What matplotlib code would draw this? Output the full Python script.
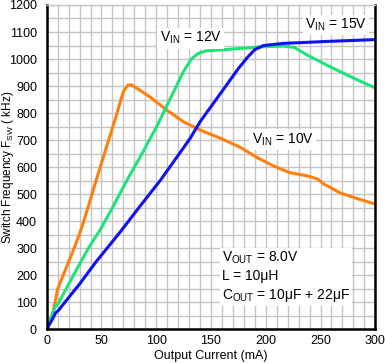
import matplotlib
matplotlib.use('Agg')
import matplotlib.pyplot as plt
from matplotlib.ticker import MultipleLocator

plt.rcParams['font.family'] = ['Liberation Sans', 'DejaVu Sans']
plt.rcParams['mathtext.fontset'] = 'custom'
plt.rcParams['mathtext.rm'] = 'Liberation Sans'

# VIN = 10V
i_10 = [0, 3, 6, 10, 15, 25, 31, 38, 45, 55, 62, 70, 74, 77, 85, 95, 110, 125, 140,
        160, 177, 192, 207, 222, 238, 247, 253, 268, 285, 300]
f_10 = [0, 30, 68, 150, 200, 300, 365, 455, 550, 680, 770, 880, 903, 905, 885, 858,
        810, 768, 738, 705, 673, 636, 605, 580, 568, 557, 538, 505, 482, 464]

# VIN = 12V
i_12 = [0, 8, 10, 23, 38, 49, 60, 73, 87, 101, 116, 125, 132, 138, 145, 170, 195,
        216, 226, 240, 261, 280, 300]
f_12 = [0, 87, 92, 190, 300, 370, 450, 550, 650, 755, 880, 955, 1000, 1020, 1030,
        1037, 1045, 1048, 1043, 1010, 967, 930, 893]

# VIN = 15V
i_15 = [0, 5, 8, 11, 20, 30, 45, 67, 85, 104, 120, 131, 140, 161, 175, 183, 190,
        198, 216, 261, 300]
f_15 = [0, 37, 60, 72, 118, 168, 250, 360, 455, 553, 644, 707, 768, 886, 965, 1005,
        1035, 1050, 1058, 1066, 1072]

fig = plt.figure(figsize=(3.85, 3.63), dpi=100)
ax = fig.add_axes([0.1213, 0.0923, 0.8535, 0.894])

ax.plot(i_10, f_10, color='#ff7f0e', lw=2.2)
ax.plot(i_12, f_12, color='#1ee27a', lw=2.2)
ax.plot(i_15, f_15, color='#1010f0', lw=2.2)

ax.set_xlim(0, 300)
ax.set_ylim(0, 1200)
ax.xaxis.set_major_locator(MultipleLocator(50))
ax.xaxis.set_minor_locator(MultipleLocator(10))
ax.yaxis.set_major_locator(MultipleLocator(100))
ax.yaxis.set_minor_locator(MultipleLocator(50))
ax.grid(which='both', color='#c4c4c4', lw=1.0)
ax.set_axisbelow(True)
ax.tick_params(which='both', length=0, labelsize=9)
ax.tick_params(axis='y', pad=7)
ax.tick_params(axis='x', pad=4)

for s in ['left', 'bottom', 'right']:
    ax.spines[s].set_linewidth(1.8)
ax.spines['top'].set_color('#c4c4c4')
ax.spines['top'].set_linewidth(1.0)

ax.set_xlabel('Output Current (mA)', fontsize=9, labelpad=2)
ax.set_ylabel(r'Switch Frequency F$_{\mathregular{SW}}$ ( kHz)', fontsize=8.5)
ax.yaxis.set_label_coords(-0.093, 0.5)

box = dict(facecolor='white', edgecolor='none', pad=1.5)
ax.text(103, 1077, r'V$_{\mathregular{IN}}$ = 12V', fontsize=10, va='center', bbox=box)
ax.text(236, 1126, r'V$_{\mathregular{IN}}$ = 15V', fontsize=10, va='center', bbox=box)
ax.text(187, 703, r'V$_{\mathregular{IN}}$ = 10V', fontsize=10, va='center', bbox=box)
ax.text(160, 195,
        'V$_{\\mathregular{OUT}}$ = 8.0V\nL = 10μH\nC$_{\\mathregular{OUT}}$ = 10μF + 22μF',
        fontsize=10, va='center', linespacing=1.3, bbox=box)

fig.savefig('out.png', dpi=100)
